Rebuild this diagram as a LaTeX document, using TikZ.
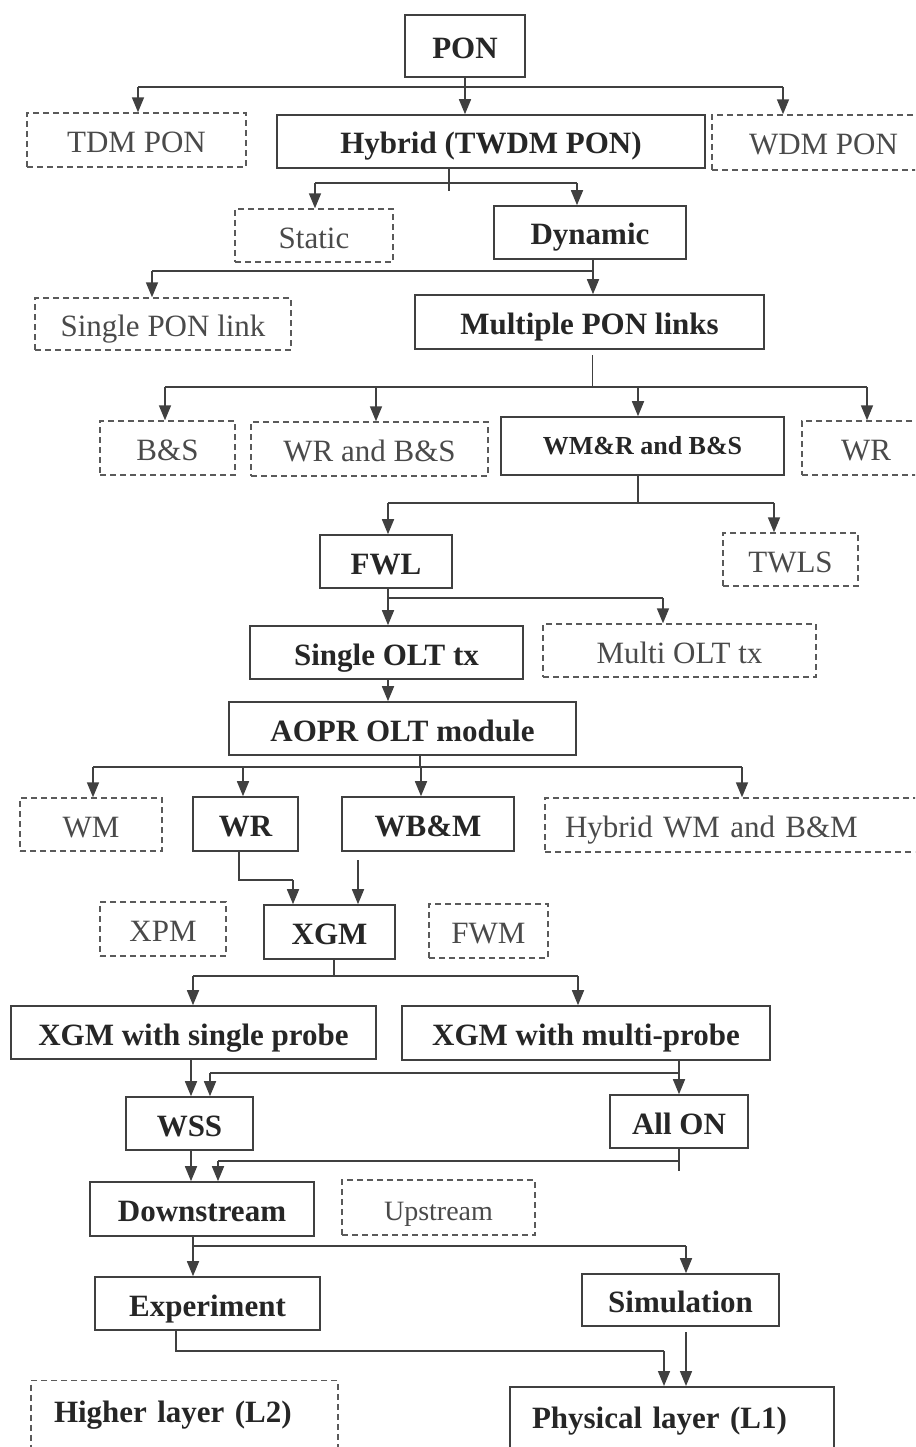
\documentclass[tikz,border=0pt]{standalone}
\usepackage{fontspec}
\setmainfont{Liberation Serif}
\usepackage{tikz}
\usetikzlibrary{arrows.meta}
\usepackage{xcolor}
\definecolor{linec}{HTML}{404040}
\definecolor{textc}{HTML}{262626}
\definecolor{optc}{HTML}{5A5A5A}
\definecolor{optt}{HTML}{4A4A4A}

\tikzset{
  main/.style={draw=linec, line width=1.6pt, text=textc, inner sep=0pt,
    text height=25pt, text depth=0pt, font=\bfseries\fontsize{31}{36}\selectfont},
  opt/.style={draw=optc, line width=1.4pt, dash pattern=on 6pt off 4pt, text=optt,
    inner sep=0pt, text height=25pt, text depth=0pt, font=\fontsize{31}{36}\selectfont},
  sz/.style 2 args={minimum width=#1pt, minimum height=#2pt},
  con/.style={draw=linec, line width=1.6pt},
  arr/.style={con, -{Triangle[length=15pt,width=12pt]}}
}

\begin{document}
\begin{tikzpicture}[x=1pt, y=-1pt]
    \useasboundingbox (0,0) rectangle (915,1447);
    \clip (0,0) rectangle (915,1447);

    \node[main, sz={120}{62}] (pon) at (465,46) {PON};
    \node[opt, sz={219}{54}] (tdm) at (136.5,140) {TDM PON};
    \node[main, sz={428}{53}] (hyb) at (491,141.5) {Hybrid (TWDM PON)};
    \node[opt, sz={223}{55}] (wdm) at (823.5,142.5) {WDM PON};
    \node[opt, sz={158}{53}] (stat) at (314,235.5) {Static};
    \node[main, sz={192}{53}] (dyn) at (590,232.5) {Dynamic};
    \node[opt, sz={256}{52}] (spl) at (163,324) {Single PON link};
    \node[main, sz={349}{54}] (mpl) at (589.5,322) {Multiple PON links};
    \node[opt, sz={135}{54}] (bs) at (167.5,448) {B\&S};
    \node[opt, sz={237}{54}] (wrbs) at (369.5,449) {WR and B\&S};
    \node[main, sz={283}{58}, text height=17pt, font=\bfseries\fontsize{26}{30}\selectfont] (wmrbs) at (642.5,446) {WM\&R and B\&S};
    \node[opt, sz={128}{54}] (wra) at (866,448) {WR};
    \node[main, sz={132}{53}] (fwl) at (386,561.5) {FWL};
    \node[opt, sz={135}{53}] (twls) at (790.5,559.5) {TWLS};
    \node[main, sz={273}{53}] (solt) at (386.5,652.5) {Single OLT tx};
    \node[opt, sz={273}{53}] (molt) at (679.5,650.5) {Multi OLT tx};
    \node[main, sz={347}{53}] (aopr) at (402.5,728.5) {AOPR OLT module};
    \node[opt, sz={142}{53}] (wm) at (91,824.5) {WM};
    \node[main, sz={105}{54}] (wrb) at (245.5,824) {WR};
    \node[main, sz={172}{54}] (wbm) at (428,824) {WB\&M};
    \node[opt, sz={0}{54}, text width=345pt, align=left, inner xsep=20pt] (hwm) at (737.5,825) {Hybrid WM and B\&M};
    \node[opt, sz={126}{54}] (xpm) at (163,929) {XPM};
    \node[main, sz={131}{54}] (xgm) at (329.5,932) {XGM};
    \node[opt, sz={119}{54}] (fwm) at (488.5,931) {FWM};
    \node[main, sz={365}{53}] (xsp) at (193.5,1032.5) {XGM with single probe};
    \node[main, sz={368}{54}] (xmp) at (586,1033) {XGM with multi-probe};
    \node[main, sz={127}{53}] (wss) at (189.5,1123.5) {WSS};
    \node[main, sz={138}{53}] (allon) at (679,1121.5) {All ON};
    \node[main, sz={224}{54}] (dstr) at (202,1209) {Downstream};
    \node[opt, sz={193}{55}, font=\fontsize{28}{32}\selectfont] (ustr) at (438.5,1207.5) {Upstream};
    \node[main, sz={225}{53}] (exp) at (207.5,1303.5) {Experiment};
    \node[main, sz={197}{52}] (sim) at (680.5,1300) {Simulation};
    \node[opt, anchor=north, text width=261pt, align=left, inner xsep=23pt, inner ysep=20pt,
      text height=22pt, text depth=60pt, text=textc, font=\bfseries\fontsize{31}{36}\selectfont] (hl) at (184.5,1380) {Higher layer (L2)};
    \node[main, anchor=north, text width=280pt, align=left, inner xsep=22pt, inner ysep=20pt,
      text height=22pt, text depth=60pt] (phy) at (672,1386) {Physical layer (L1)};

    \coordinate (j1) at (465,87);
    \coordinate (j1a) at (138,87);
    \coordinate (j1b) at (783,87);
    \draw[con] (pon.south) -- (j1);
    \draw[con] (j1a) -- (j1b);
    \draw[arr] (j1a) -- (j1a |- tdm.north);
    \draw[arr] (j1) -- (j1 |- hyb.north);
    \draw[arr] (j1b) -- (j1b |- wdm.north);

    \coordinate (j2) at (449,183);
    \coordinate (j2a) at (315,183);
    \coordinate (j2b) at (577,183);
    \draw[con] (j2 |- hyb.south) -- ++(0,22);
    \draw[con] (j2a) -- (j2b);
    \draw[arr] (j2a) -- (j2a |- stat.north);
    \draw[arr] (j2b) -- (j2b |- dyn.north);

    \coordinate (j3) at (593,271);
    \coordinate (j3a) at (152,271);
    \draw[con] (j3 |- dyn.south) -- (j3) -- (j3a);
    \draw[arr] (j3a) -- (j3a |- spl.north);
    \draw[arr] (j3) -- (j3 |- mpl.north);

    \coordinate (j4s) at (592,355);
    \coordinate (j4) at (592,387);
    \coordinate (j4a) at (165,387);
    \coordinate (j4b) at (376,387);
    \coordinate (j4c) at (638,387);
    \coordinate (j4d) at (867,387);
    \draw[linec, line width=0.8pt] (j4s) -- (j4);
    \draw[con] (j4a) -- (j4d);
    \draw[arr] (j4a) -- (j4a |- bs.north);
    \draw[arr] (j4b) -- (j4b |- wrbs.north);
    \draw[arr] (j4c) -- (j4c |- wmrbs.north);
    \draw[arr] (j4d) -- (j4d |- wra.north);

    \coordinate (j5) at (638,503);
    \coordinate (j5a) at (388,503);
    \coordinate (j5b) at (774,503);
    \draw[con] (j5 |- wmrbs.south) -- (j5);
    \draw[con] (j5a) -- (j5b);
    \draw[arr] (j5a) -- (j5a |- fwl.north);
    \draw[arr] (j5b) -- (j5b |- twls.north);

    \coordinate (j6) at (388,598);
    \coordinate (j6b) at (663,598);
    \draw[con] (j6 |- fwl.south) -- (j6) -- (j6b);
    \draw[arr] (j6) -- (j6 |- solt.north);
    \draw[arr] (j6b) -- (j6b |- molt.north);
    \draw[arr] (j6 |- solt.south) -- (j6 |- aopr.north);

    \coordinate (j8) at (420,767);
    \coordinate (j8a) at (93,767);
    \coordinate (j8b) at (243,767);
    \coordinate (j8c) at (421,767);
    \coordinate (j8d) at (742,767);
    \draw[con] (j8 |- aopr.south) -- (j8);
    \draw[con] (j8a) -- (j8d);
    \draw[arr] (j8a) -- (j8a |- wm.north);
    \draw[arr] (j8b) -- (j8b |- wrb.north);
    \draw[arr] (j8c) -- (j8c |- wbm.north);
    \draw[arr] (j8d) -- (j8d |- hwm.north);

    \coordinate (j9) at (239,880);
    \coordinate (j9b) at (293,880);
    \coordinate (j10) at (358,860);
    \draw[con] (j9 |- wrb.south) -- (j9) -- (j9b);
    \draw[arr] (j9b) -- (j9b |- xgm.north);
    \draw[arr] (j10) -- (j10 |- xgm.north);

    \coordinate (j11) at (334,976);
    \coordinate (j11a) at (193,976);
    \coordinate (j11b) at (578,976);
    \draw[con] (j11 |- xgm.south) -- (j11);
    \draw[con] (j11a) -- (j11b);
    \draw[arr] (j11a) -- (j11a |- xsp.north);
    \draw[arr] (j11b) -- (j11b |- xmp.north);

    \coordinate (j12) at (191,1073);
    \coordinate (j13) at (679,1073);
    \coordinate (j13a) at (210,1073);
    \draw[arr] (j12 |- xsp.south) -- (j12 |- wss.north);
    \draw[con] (j13 |- xmp.south) -- (j13) -- (j13a);
    \draw[arr] (j13a) -- (j13a |- wss.north);
    \draw[arr] (j13) -- (j13 |- allon.north);

    \coordinate (j15) at (679,1161);
    \coordinate (j15a) at (218,1161);
    \draw[arr] (j12 |- wss.south) -- (j12 |- dstr.north);
    \draw[con] (j15 |- allon.south) -- ++(0,22);
    \draw[con] (j15) -- (j15a);
    \draw[arr] (j15a) -- (j15a |- dstr.north);

    \coordinate (j16) at (193,1246);
    \coordinate (j16b) at (686,1246);
    \draw[con] (j16 |- dstr.south) -- (j16) -- (j16b);
    \draw[arr] (j16) -- (j16 |- exp.north);
    \draw[arr] (j16b) -- (j16b |- sim.north);

    \coordinate (j17) at (176,1351);
    \coordinate (j17b) at (664,1351);
    \coordinate (j18) at (686,1332);
    \draw[con] (j17 |- exp.south) -- (j17) -- (j17b);
    \draw[arr] (j17b) -- (j17b |- phy.north);
    \draw[arr] (j18) -- (j18 |- phy.north);
\end{tikzpicture}
\end{document}
